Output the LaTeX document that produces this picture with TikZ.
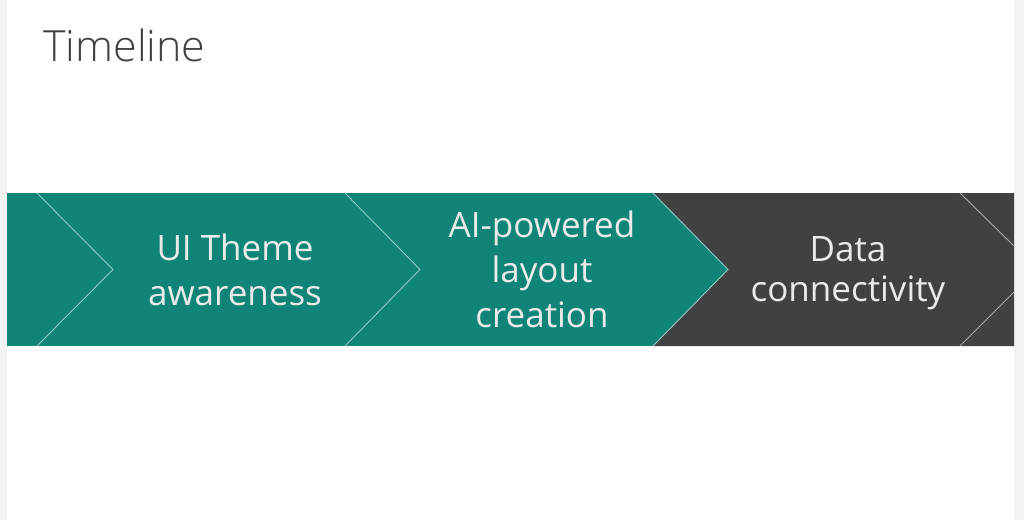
\documentclass[tikz,border=0pt]{standalone}
\usepackage{fontspec}
\setmainfont{Open Sans}
\IfFontExistsTF{Open Sans Light}{\newfontfamily\titlefont{Open Sans Light}}{\newfontfamily\titlefont{Open Sans}}
\definecolor{teal1}{HTML}{108477}
\definecolor{dark1}{HTML}{414141}
\definecolor{txt1}{HTML}{EAEAEA}
\definecolor{ttl}{HTML}{404040}
\definecolor{edge}{HTML}{F3F3F3}
\definecolor{tline}{HTML}{8FCBC2}
\definecolor{dline}{HTML}{A8A8A8}
\tikzset{
  steptext/.style={text=txt1, font=\fontsize{35}{45}\selectfont, align=center, inner sep=0pt},
  tealline/.style={draw=tline, line width=0.9pt},
  darkline/.style={draw=dline, line width=0.9pt}
}
\begin{document}
\begin{tikzpicture}[x=1pt,y=-1pt]
\useasboundingbox (0,0) rectangle (1024,520);
\fill[white] (0,0) rectangle (1024,520);
\fill[edge] (0,0) rectangle (7,520);
\fill[edge] (1014,0) rectangle (1024,520);
% band
\fill[teal1] (7,193) rectangle (728,346);
\fill[dark1] (653,193) -- (1014,193) -- (1014,346) -- (653,346) -- (728,269.5) -- cycle;
% chevron lines
\draw[tealline] (37,193) -- (113,269.5) -- (37,346);
\draw[tealline] (345,193) -- (420,269.5) -- (345,346);
\draw[tealline] (653,193) -- (728,269.5) -- (653,346);
\draw[darkline] (960,193) -- (1014,246);
\draw[darkline] (960,346) -- (1014,292);
% title
\node[anchor=base west, inner sep=0pt, text=ttl, font=\titlefont\fontsize{43}{52}\selectfont] (title) at (43,61) {Timeline};
% texts
\node[steptext, anchor=base] (s1) at (235,305) {UI Theme\\awareness};
\node[steptext, anchor=base] (s2) at (542,327) {AI-powered\\layout\\creation};
\node[steptext, anchor=base, font=\fontsize{35}{40}\selectfont] (s3) at (848,301) {Data\\connectivity};
\end{tikzpicture}
\end{document}
